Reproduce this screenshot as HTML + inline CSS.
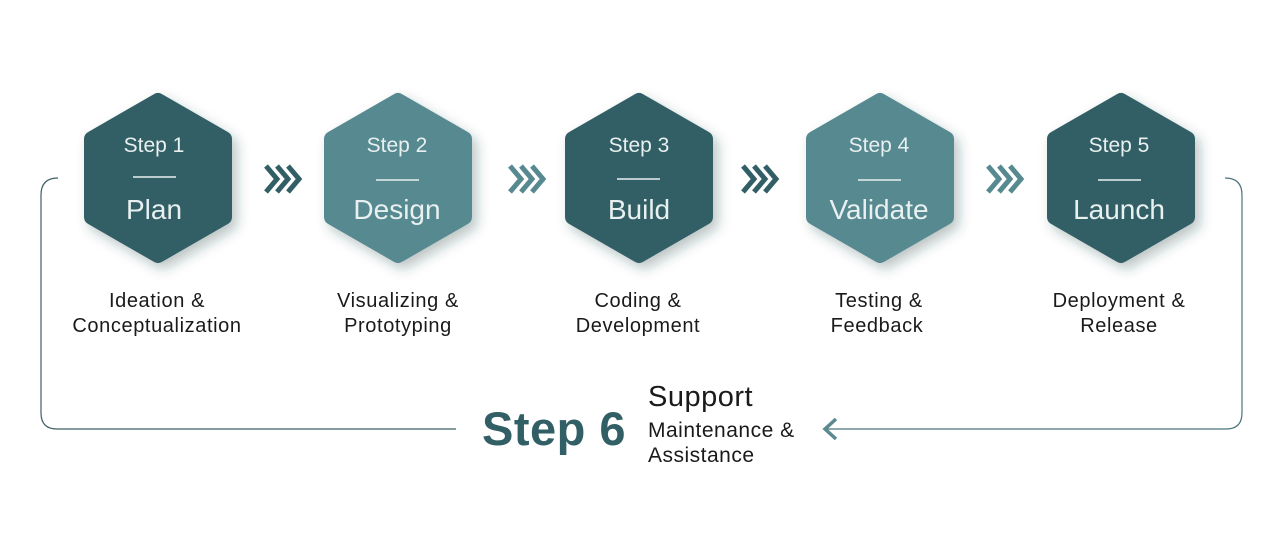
<!DOCTYPE html>
<html><head><style>
body{margin:0;background:#fff;width:1278px;height:551px;overflow:hidden}
svg text{font-family:"Liberation Sans",sans-serif}
</style></head><body>
<svg width="1278" height="551" viewBox="0 0 1278 551" xmlns="http://www.w3.org/2000/svg">
<defs>
<filter id="sh" x="-30%" y="-30%" width="160%" height="160%"><feDropShadow dx="5" dy="6" stdDeviation="6" flood-color="#1d3d42" flood-opacity="0.3"/></filter>
<g id="hex"><polygon points="0,-77 66,-39 66,39 0,77 -66,39 -66,-39" stroke-width="16" stroke-linejoin="round"/></g>
</defs>
<path d="M58,178 Q41,178 41,195 L41,413 Q41,429 57,429 L456,429" fill="none" stroke="#3f5f64" stroke-width="1.2"/>
<path d="M1225,178 Q1242,178 1242,195 L1242,413 Q1242,429 1226,429 L824,429" fill="none" stroke="#4a7479" stroke-width="1.2"/>
<path d="M836,419 L825,429 L836,439" fill="none" stroke="#5a8a90" stroke-width="3.5"/>
<g filter="url(#sh)">
<use href="#hex" x="158" y="178" fill="#325f66" stroke="#325f66"/>
<use href="#hex" x="398" y="178" fill="#568990" stroke="#568990"/>
<use href="#hex" x="639" y="178" fill="#325f66" stroke="#325f66"/>
<use href="#hex" x="880" y="178" fill="#568990" stroke="#568990"/>
<use href="#hex" x="1121" y="178" fill="#325f66" stroke="#325f66"/>
</g>
<g fill="#e8f0f0" text-anchor="middle">
<text x="154" y="152" font-size="21">Step 1</text><text x="154" y="219" font-size="28">Plan</text>
<text x="397" y="152" font-size="21">Step 2</text><text x="397" y="219" font-size="28">Design</text>
<text x="639" y="152" font-size="21">Step 3</text><text x="639" y="219" font-size="28">Build</text>
<text x="879" y="152" font-size="21">Step 4</text><text x="879" y="219" font-size="28">Validate</text>
<text x="1119" y="152" font-size="21">Step 5</text><text x="1119" y="219" font-size="28">Launch</text>
</g>
<g stroke="#e8f0f0" stroke-width="1.5">
<line x1="133" y1="177" x2="176" y2="177"/><line x1="376" y1="180" x2="419" y2="180"/>
<line x1="617" y1="179" x2="660" y2="179"/><line x1="858" y1="180" x2="901" y2="180"/>
<line x1="1098" y1="180" x2="1141" y2="180"/>
</g>
<g fill="none" stroke-width="5">
<g stroke="#325f66"><path d="M266,166 L277,179 L266,192 M277,166 L288,179 L277,192 M288,166 L299,179 L288,192"/></g>
<g stroke="#568990"><path d="M510,166 L521,179 L510,192 M521,166 L532,179 L521,192 M532,166 L543,179 L532,192"/></g>
<g stroke="#325f66"><path d="M743,166 L754,179 L743,192 M754,166 L765,179 L754,192 M765,166 L776,179 L765,192"/></g>
<g stroke="#568990"><path d="M988,166 L999,179 L988,192 M999,166 L1010,179 L999,192 M1010,166 L1021,179 L1010,192"/></g>
</g>
<g fill="#1a1a1a" font-size="20" text-anchor="middle" letter-spacing="0.6">
<text x="157" y="307">Ideation &amp;</text><text x="157" y="332">Conceptualization</text>
<text x="398" y="307">Visualizing &amp;</text><text x="398" y="332">Prototyping</text>
<text x="638" y="307">Coding &amp;</text><text x="638" y="332">Development</text>
<text x="879" y="307">Testing &amp;</text><text x="877" y="332">Feedback</text>
<text x="1119" y="307">Deployment &amp;</text><text x="1119" y="332">Release</text>
</g>
<text x="482" y="445" font-size="47" font-weight="bold" fill="#325f66" letter-spacing="0.5">Step 6</text>
<text x="648" y="406" font-size="29" fill="#1a1a1a" letter-spacing="0.5">Support</text>
<text x="648" y="437" font-size="21" fill="#1a1a1a" letter-spacing="0.5">Maintenance &amp;</text>
<text x="648" y="462" font-size="21" fill="#1a1a1a" letter-spacing="0.5">Assistance</text>
</svg>
</body></html>
